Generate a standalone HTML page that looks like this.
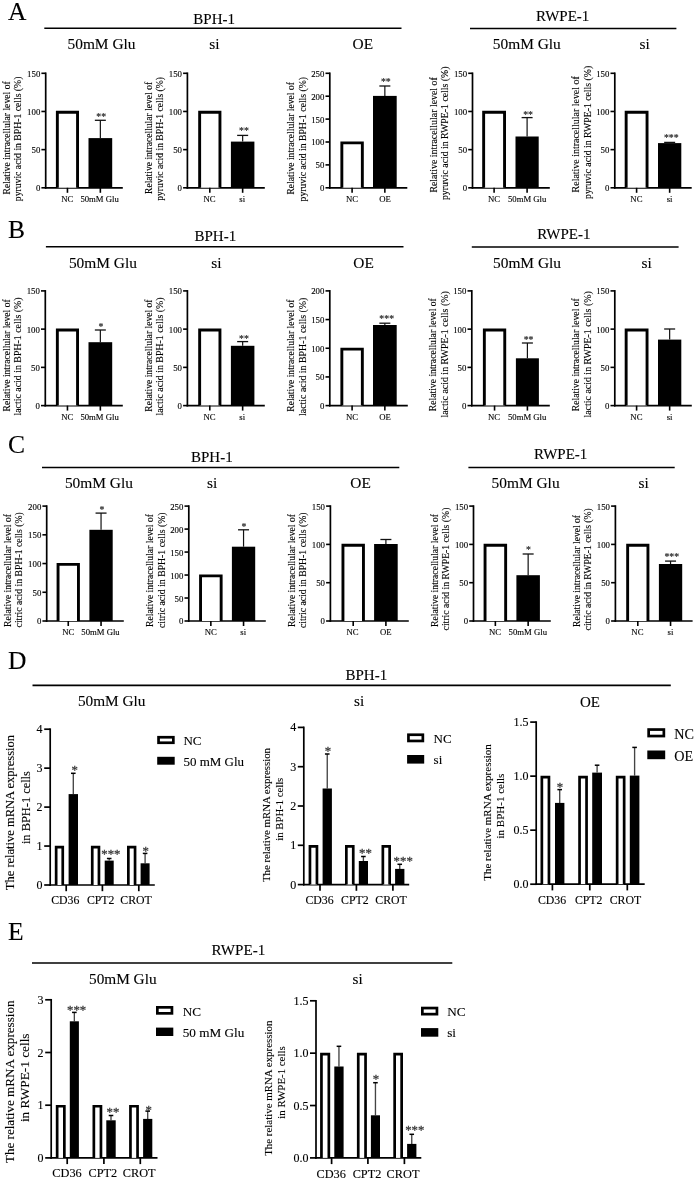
<!DOCTYPE html>
<html><head><meta charset="utf-8"><style>
html,body{margin:0;padding:0;background:#fff;}
svg{display:block;filter:grayscale(1);}
text{font-family:"Liberation Serif", serif;fill:#000;stroke:#000;stroke-width:0.12px;}
</style></head><body>
<svg width="695" height="1180" viewBox="0 0 695 1180">
<rect x="0" y="0" width="695" height="1180" fill="#fff"/>
<text x="8.00" y="19.80" font-size="25.5" text-anchor="start" >A</text>
<line x1="44.30" y1="28.30" x2="401.50" y2="28.30" stroke="#000" stroke-width="1.5"/>
<line x1="470.00" y1="28.60" x2="676.40" y2="28.60" stroke="#000" stroke-width="1.5"/>
<text x="193.30" y="23.60" font-size="15" text-anchor="start" >BPH-1</text>
<text x="536.00" y="20.70" font-size="15" text-anchor="start" >RWPE-1</text>
<text x="67.50" y="49.30" font-size="15.4" text-anchor="start" >50mM Glu</text>
<text x="209.30" y="49.30" font-size="15.4" text-anchor="start" >si</text>
<text x="352.60" y="49.30" font-size="15.4" text-anchor="start" >OE</text>
<text x="492.80" y="49.30" font-size="15.4" text-anchor="start" >50mM Glu</text>
<text x="639.60" y="49.30" font-size="15.4" text-anchor="start" >si</text>
<line x1="45.70" y1="72.45" x2="45.70" y2="188.65" stroke="#000" stroke-width="1.7"/>
<line x1="44.85" y1="187.80" x2="122.80" y2="187.80" stroke="#000" stroke-width="1.7"/>
<line x1="41.40" y1="187.80" x2="45.70" y2="187.80" stroke="#000" stroke-width="1.6"/>
<text x="40.30" y="191.29" font-size="8.8" text-anchor="end" >0</text>
<line x1="41.40" y1="149.63" x2="45.70" y2="149.63" stroke="#000" stroke-width="1.6"/>
<text x="40.30" y="153.13" font-size="8.8" text-anchor="end" >50</text>
<line x1="41.40" y1="111.47" x2="45.70" y2="111.47" stroke="#000" stroke-width="1.6"/>
<text x="40.30" y="114.96" font-size="8.8" text-anchor="end" >100</text>
<line x1="41.40" y1="73.30" x2="45.70" y2="73.30" stroke="#000" stroke-width="1.6"/>
<text x="40.30" y="76.79" font-size="8.8" text-anchor="end" >150</text>
<path d="M57.35 187.80 V112.32 H77.55 V187.80" fill="#fff" stroke="#000" stroke-width="2.9" stroke-linejoin="miter"/>
<line x1="100.35" y1="120.30" x2="100.35" y2="138.10" stroke="#111" stroke-width="1.2"/>
<line x1="94.85" y1="120.30" x2="105.85" y2="120.30" stroke="#111" stroke-width="1.3"/>
<rect x="88.50" y="138.10" width="23.70" height="49.70" fill="#000"/>
<line x1="67.45" y1="187.80" x2="67.45" y2="192.80" stroke="#000" stroke-width="1.6"/>
<line x1="100.35" y1="187.80" x2="100.35" y2="192.80" stroke="#000" stroke-width="1.6"/>
<text x="101.20" y="120.44" font-size="9.8" text-anchor="middle" style="fill:#333;stroke:#333;stroke-width:0.2">**</text>
<text x="67.20" y="202.10" font-size="8.7" text-anchor="middle" >NC</text>
<text x="99.60" y="202.10" font-size="8.7" text-anchor="middle" >50mM Glu</text>
<text transform="translate(10.20,137.90) rotate(-90)" x="0" y="0" font-size="9.7" text-anchor="middle">Relative intracellular level of</text>
<text transform="translate(21.40,138.90) rotate(-90)" x="0" y="0" font-size="9.7" text-anchor="middle">pyruvic acid in BPH-1 cells (%)</text>
<line x1="187.40" y1="72.45" x2="187.40" y2="188.65" stroke="#000" stroke-width="1.7"/>
<line x1="186.55" y1="187.80" x2="264.80" y2="187.80" stroke="#000" stroke-width="1.7"/>
<line x1="183.10" y1="187.80" x2="187.40" y2="187.80" stroke="#000" stroke-width="1.6"/>
<text x="182.00" y="191.29" font-size="8.8" text-anchor="end" >0</text>
<line x1="183.10" y1="149.63" x2="187.40" y2="149.63" stroke="#000" stroke-width="1.6"/>
<text x="182.00" y="153.13" font-size="8.8" text-anchor="end" >50</text>
<line x1="183.10" y1="111.47" x2="187.40" y2="111.47" stroke="#000" stroke-width="1.6"/>
<text x="182.00" y="114.96" font-size="8.8" text-anchor="end" >100</text>
<line x1="183.10" y1="73.30" x2="187.40" y2="73.30" stroke="#000" stroke-width="1.6"/>
<text x="182.00" y="76.79" font-size="8.8" text-anchor="end" >150</text>
<path d="M199.65 187.80 V112.32 H219.95 V187.80" fill="#fff" stroke="#000" stroke-width="2.9" stroke-linejoin="miter"/>
<line x1="242.65" y1="135.40" x2="242.65" y2="141.60" stroke="#111" stroke-width="1.2"/>
<line x1="237.15" y1="135.40" x2="248.15" y2="135.40" stroke="#111" stroke-width="1.3"/>
<rect x="230.90" y="141.60" width="23.50" height="46.20" fill="#000"/>
<line x1="209.80" y1="187.80" x2="209.80" y2="192.80" stroke="#000" stroke-width="1.6"/>
<line x1="242.65" y1="187.80" x2="242.65" y2="192.80" stroke="#000" stroke-width="1.6"/>
<text x="244.00" y="134.34" font-size="9.8" text-anchor="middle" style="fill:#333;stroke:#333;stroke-width:0.2">**</text>
<text x="209.60" y="202.10" font-size="8.7" text-anchor="middle" >NC</text>
<text x="242.20" y="202.10" font-size="8.7" text-anchor="middle" >si</text>
<text transform="translate(151.90,137.90) rotate(-90)" x="0" y="0" font-size="9.6" text-anchor="middle">Relative intracellular level of</text>
<text transform="translate(163.10,138.90) rotate(-90)" x="0" y="0" font-size="9.65" text-anchor="middle">pyruvic acid in BPH-1 cells (%)</text>
<line x1="329.80" y1="72.45" x2="329.80" y2="188.65" stroke="#000" stroke-width="1.7"/>
<line x1="328.95" y1="187.80" x2="407.30" y2="187.80" stroke="#000" stroke-width="1.7"/>
<line x1="325.50" y1="187.80" x2="329.80" y2="187.80" stroke="#000" stroke-width="1.6"/>
<text x="324.40" y="191.29" font-size="8.8" text-anchor="end" >0</text>
<line x1="325.50" y1="164.90" x2="329.80" y2="164.90" stroke="#000" stroke-width="1.6"/>
<text x="324.40" y="168.39" font-size="8.8" text-anchor="end" >50</text>
<line x1="325.50" y1="142.00" x2="329.80" y2="142.00" stroke="#000" stroke-width="1.6"/>
<text x="324.40" y="145.49" font-size="8.8" text-anchor="end" >100</text>
<line x1="325.50" y1="119.10" x2="329.80" y2="119.10" stroke="#000" stroke-width="1.6"/>
<text x="324.40" y="122.59" font-size="8.8" text-anchor="end" >150</text>
<line x1="325.50" y1="96.20" x2="329.80" y2="96.20" stroke="#000" stroke-width="1.6"/>
<text x="324.40" y="99.69" font-size="8.8" text-anchor="end" >200</text>
<line x1="325.50" y1="73.30" x2="329.80" y2="73.30" stroke="#000" stroke-width="1.6"/>
<text x="324.40" y="76.79" font-size="8.8" text-anchor="end" >250</text>
<path d="M341.85 187.80 V142.85 H362.35 V187.80" fill="#fff" stroke="#000" stroke-width="2.9" stroke-linejoin="miter"/>
<line x1="384.85" y1="86.00" x2="384.85" y2="95.90" stroke="#111" stroke-width="1.2"/>
<line x1="379.35" y1="86.00" x2="390.35" y2="86.00" stroke="#111" stroke-width="1.3"/>
<rect x="373.00" y="95.90" width="23.70" height="91.90" fill="#000"/>
<line x1="352.10" y1="187.80" x2="352.10" y2="192.80" stroke="#000" stroke-width="1.6"/>
<line x1="384.85" y1="187.80" x2="384.85" y2="192.80" stroke="#000" stroke-width="1.6"/>
<text x="385.80" y="84.94" font-size="9.8" text-anchor="middle" style="fill:#333;stroke:#333;stroke-width:0.2">**</text>
<text x="352.10" y="202.10" font-size="8.7" text-anchor="middle" >NC</text>
<text x="385.00" y="202.10" font-size="8.7" text-anchor="middle" >OE</text>
<text transform="translate(294.30,138.30) rotate(-90)" x="0" y="0" font-size="9.65" text-anchor="middle">Relative intracellular level of</text>
<text transform="translate(305.50,139.20) rotate(-90)" x="0" y="0" font-size="9.68" text-anchor="middle">pyruvic acid in BPH-1 cells (%)</text>
<line x1="472.50" y1="72.45" x2="472.50" y2="188.65" stroke="#000" stroke-width="1.7"/>
<line x1="471.65" y1="187.80" x2="549.80" y2="187.80" stroke="#000" stroke-width="1.7"/>
<line x1="468.20" y1="187.80" x2="472.50" y2="187.80" stroke="#000" stroke-width="1.6"/>
<text x="467.10" y="191.29" font-size="8.8" text-anchor="end" >0</text>
<line x1="468.20" y1="149.63" x2="472.50" y2="149.63" stroke="#000" stroke-width="1.6"/>
<text x="467.10" y="153.13" font-size="8.8" text-anchor="end" >50</text>
<line x1="468.20" y1="111.47" x2="472.50" y2="111.47" stroke="#000" stroke-width="1.6"/>
<text x="467.10" y="114.96" font-size="8.8" text-anchor="end" >100</text>
<line x1="468.20" y1="73.30" x2="472.50" y2="73.30" stroke="#000" stroke-width="1.6"/>
<text x="467.10" y="76.79" font-size="8.8" text-anchor="end" >150</text>
<path d="M483.65 187.80 V112.32 H504.55 V187.80" fill="#fff" stroke="#000" stroke-width="2.9" stroke-linejoin="miter"/>
<line x1="527.10" y1="117.60" x2="527.10" y2="136.50" stroke="#111" stroke-width="1.2"/>
<line x1="521.60" y1="117.60" x2="532.60" y2="117.60" stroke="#111" stroke-width="1.3"/>
<rect x="515.50" y="136.50" width="23.20" height="51.30" fill="#000"/>
<line x1="494.10" y1="187.80" x2="494.10" y2="192.80" stroke="#000" stroke-width="1.6"/>
<line x1="527.10" y1="187.80" x2="527.10" y2="192.80" stroke="#000" stroke-width="1.6"/>
<text x="528.10" y="117.64" font-size="9.8" text-anchor="middle" style="fill:#333;stroke:#333;stroke-width:0.2">**</text>
<text x="494.10" y="202.10" font-size="8.7" text-anchor="middle" >NC</text>
<text x="527.20" y="202.10" font-size="8.7" text-anchor="middle" >50mM Glu</text>
<text transform="translate(437.00,134.90) rotate(-90)" x="0" y="0" font-size="9.9" text-anchor="middle">Relative intracellular level of</text>
<text transform="translate(448.20,133.30) rotate(-90)" x="0" y="0" font-size="9.8" text-anchor="middle">pyruvic acid in RWPE-1 cells (%)</text>
<line x1="614.80" y1="72.45" x2="614.80" y2="188.65" stroke="#000" stroke-width="1.7"/>
<line x1="613.95" y1="187.80" x2="691.70" y2="187.80" stroke="#000" stroke-width="1.7"/>
<line x1="610.50" y1="187.80" x2="614.80" y2="187.80" stroke="#000" stroke-width="1.6"/>
<text x="609.40" y="191.29" font-size="8.8" text-anchor="end" >0</text>
<line x1="610.50" y1="149.63" x2="614.80" y2="149.63" stroke="#000" stroke-width="1.6"/>
<text x="609.40" y="153.13" font-size="8.8" text-anchor="end" >50</text>
<line x1="610.50" y1="111.47" x2="614.80" y2="111.47" stroke="#000" stroke-width="1.6"/>
<text x="609.40" y="114.96" font-size="8.8" text-anchor="end" >100</text>
<line x1="610.50" y1="73.30" x2="614.80" y2="73.30" stroke="#000" stroke-width="1.6"/>
<text x="609.40" y="76.79" font-size="8.8" text-anchor="end" >150</text>
<path d="M626.15 187.80 V112.32 H647.05 V187.80" fill="#fff" stroke="#000" stroke-width="2.9" stroke-linejoin="miter"/>
<line x1="669.65" y1="142.40" x2="669.65" y2="143.10" stroke="#111" stroke-width="1.2"/>
<line x1="664.15" y1="142.40" x2="675.15" y2="142.40" stroke="#111" stroke-width="1.3"/>
<rect x="658.00" y="143.10" width="23.30" height="44.70" fill="#000"/>
<line x1="636.60" y1="187.80" x2="636.60" y2="192.80" stroke="#000" stroke-width="1.6"/>
<line x1="669.65" y1="187.80" x2="669.65" y2="192.80" stroke="#000" stroke-width="1.6"/>
<text x="671.30" y="141.04" font-size="9.8" text-anchor="middle" style="fill:#333;stroke:#333;stroke-width:0.2">***</text>
<text x="636.40" y="202.10" font-size="8.7" text-anchor="middle" >NC</text>
<text x="669.60" y="202.10" font-size="8.7" text-anchor="middle" >si</text>
<text transform="translate(579.30,134.30) rotate(-90)" x="0" y="0" font-size="9.95" text-anchor="middle">Relative intracellular level of</text>
<text transform="translate(590.50,132.40) rotate(-90)" x="0" y="0" font-size="9.78" text-anchor="middle">pyruvic acid in RWPE-1 cells (%)</text>
<text x="8.00" y="237.90" font-size="25.5" text-anchor="start" >B</text>
<line x1="45.90" y1="246.80" x2="403.50" y2="246.80" stroke="#000" stroke-width="1.5"/>
<line x1="471.80" y1="246.90" x2="678.60" y2="246.90" stroke="#000" stroke-width="1.5"/>
<text x="194.50" y="240.90" font-size="15" text-anchor="start" >BPH-1</text>
<text x="537.20" y="238.70" font-size="15" text-anchor="start" >RWPE-1</text>
<text x="68.90" y="267.70" font-size="15.4" text-anchor="start" >50mM Glu</text>
<text x="211.30" y="267.70" font-size="15.4" text-anchor="start" >si</text>
<text x="353.30" y="267.70" font-size="15.4" text-anchor="start" >OE</text>
<text x="493.00" y="267.70" font-size="15.4" text-anchor="start" >50mM Glu</text>
<text x="641.50" y="267.70" font-size="15.4" text-anchor="start" >si</text>
<line x1="45.30" y1="290.05" x2="45.30" y2="406.45" stroke="#000" stroke-width="1.7"/>
<line x1="44.45" y1="405.60" x2="122.80" y2="405.60" stroke="#000" stroke-width="1.7"/>
<line x1="41.00" y1="405.60" x2="45.30" y2="405.60" stroke="#000" stroke-width="1.6"/>
<text x="39.90" y="409.09" font-size="8.8" text-anchor="end" >0</text>
<line x1="41.00" y1="367.37" x2="45.30" y2="367.37" stroke="#000" stroke-width="1.6"/>
<text x="39.90" y="370.86" font-size="8.8" text-anchor="end" >50</text>
<line x1="41.00" y1="329.13" x2="45.30" y2="329.13" stroke="#000" stroke-width="1.6"/>
<text x="39.90" y="332.63" font-size="8.8" text-anchor="end" >100</text>
<line x1="41.00" y1="290.90" x2="45.30" y2="290.90" stroke="#000" stroke-width="1.6"/>
<text x="39.90" y="294.39" font-size="8.8" text-anchor="end" >150</text>
<path d="M57.35 405.60 V329.98 H77.55 V405.60" fill="#fff" stroke="#000" stroke-width="2.9" stroke-linejoin="miter"/>
<line x1="100.35" y1="330.00" x2="100.35" y2="342.20" stroke="#111" stroke-width="1.2"/>
<line x1="94.85" y1="330.00" x2="105.85" y2="330.00" stroke="#111" stroke-width="1.3"/>
<rect x="88.50" y="342.20" width="23.70" height="63.40" fill="#000"/>
<line x1="67.45" y1="405.60" x2="67.45" y2="410.60" stroke="#000" stroke-width="1.6"/>
<line x1="100.35" y1="405.60" x2="100.35" y2="410.60" stroke="#000" stroke-width="1.6"/>
<text x="101.00" y="329.54" font-size="9.8" text-anchor="middle" style="fill:#333;stroke:#333;stroke-width:0.2">*</text>
<text x="67.20" y="419.90" font-size="8.7" text-anchor="middle" >NC</text>
<text x="99.60" y="419.90" font-size="8.7" text-anchor="middle" >50mM Glu</text>
<text transform="translate(9.80,355.40) rotate(-90)" x="0" y="0" font-size="9.6" text-anchor="middle">Relative intracellular level of</text>
<text transform="translate(21.00,356.50) rotate(-90)" x="0" y="0" font-size="9.87" text-anchor="middle">lactic acid in BPH-1 cells (%)</text>
<line x1="187.40" y1="290.05" x2="187.40" y2="406.45" stroke="#000" stroke-width="1.7"/>
<line x1="186.55" y1="405.60" x2="264.80" y2="405.60" stroke="#000" stroke-width="1.7"/>
<line x1="183.10" y1="405.60" x2="187.40" y2="405.60" stroke="#000" stroke-width="1.6"/>
<text x="182.00" y="409.09" font-size="8.8" text-anchor="end" >0</text>
<line x1="183.10" y1="367.37" x2="187.40" y2="367.37" stroke="#000" stroke-width="1.6"/>
<text x="182.00" y="370.86" font-size="8.8" text-anchor="end" >50</text>
<line x1="183.10" y1="329.13" x2="187.40" y2="329.13" stroke="#000" stroke-width="1.6"/>
<text x="182.00" y="332.63" font-size="8.8" text-anchor="end" >100</text>
<line x1="183.10" y1="290.90" x2="187.40" y2="290.90" stroke="#000" stroke-width="1.6"/>
<text x="182.00" y="294.39" font-size="8.8" text-anchor="end" >150</text>
<path d="M199.65 405.60 V329.98 H219.95 V405.60" fill="#fff" stroke="#000" stroke-width="2.9" stroke-linejoin="miter"/>
<line x1="242.65" y1="341.60" x2="242.65" y2="345.80" stroke="#111" stroke-width="1.2"/>
<line x1="237.15" y1="341.60" x2="248.15" y2="341.60" stroke="#111" stroke-width="1.3"/>
<rect x="230.90" y="345.80" width="23.50" height="59.80" fill="#000"/>
<line x1="209.80" y1="405.60" x2="209.80" y2="410.60" stroke="#000" stroke-width="1.6"/>
<line x1="242.65" y1="405.60" x2="242.65" y2="410.60" stroke="#000" stroke-width="1.6"/>
<text x="244.00" y="341.94" font-size="9.8" text-anchor="middle" style="fill:#333;stroke:#333;stroke-width:0.2">**</text>
<text x="209.60" y="419.90" font-size="8.7" text-anchor="middle" >NC</text>
<text x="242.20" y="419.90" font-size="8.7" text-anchor="middle" >si</text>
<text transform="translate(151.90,355.60) rotate(-90)" x="0" y="0" font-size="9.62" text-anchor="middle">Relative intracellular level of</text>
<text transform="translate(163.10,356.50) rotate(-90)" x="0" y="0" font-size="9.89" text-anchor="middle">lactic acid in BPH-1 cells (%)</text>
<line x1="329.80" y1="290.05" x2="329.80" y2="406.45" stroke="#000" stroke-width="1.7"/>
<line x1="328.95" y1="405.60" x2="407.80" y2="405.60" stroke="#000" stroke-width="1.7"/>
<line x1="325.50" y1="405.60" x2="329.80" y2="405.60" stroke="#000" stroke-width="1.6"/>
<text x="324.40" y="409.09" font-size="8.8" text-anchor="end" >0</text>
<line x1="325.50" y1="376.93" x2="329.80" y2="376.93" stroke="#000" stroke-width="1.6"/>
<text x="324.40" y="380.42" font-size="8.8" text-anchor="end" >50</text>
<line x1="325.50" y1="348.25" x2="329.80" y2="348.25" stroke="#000" stroke-width="1.6"/>
<text x="324.40" y="351.74" font-size="8.8" text-anchor="end" >100</text>
<line x1="325.50" y1="319.57" x2="329.80" y2="319.57" stroke="#000" stroke-width="1.6"/>
<text x="324.40" y="323.07" font-size="8.8" text-anchor="end" >150</text>
<line x1="325.50" y1="290.90" x2="329.80" y2="290.90" stroke="#000" stroke-width="1.6"/>
<text x="324.40" y="294.39" font-size="8.8" text-anchor="end" >200</text>
<path d="M341.85 405.60 V349.10 H362.35 V405.60" fill="#fff" stroke="#000" stroke-width="2.9" stroke-linejoin="miter"/>
<line x1="384.85" y1="323.20" x2="384.85" y2="325.00" stroke="#111" stroke-width="1.2"/>
<line x1="379.35" y1="323.20" x2="390.35" y2="323.20" stroke="#111" stroke-width="1.3"/>
<rect x="373.00" y="325.00" width="23.70" height="80.60" fill="#000"/>
<line x1="352.10" y1="405.60" x2="352.10" y2="410.60" stroke="#000" stroke-width="1.6"/>
<line x1="384.85" y1="405.60" x2="384.85" y2="410.60" stroke="#000" stroke-width="1.6"/>
<text x="386.70" y="321.64" font-size="9.8" text-anchor="middle" style="fill:#333;stroke:#333;stroke-width:0.2">***</text>
<text x="352.10" y="419.90" font-size="8.7" text-anchor="middle" >NC</text>
<text x="385.00" y="419.90" font-size="8.7" text-anchor="middle" >OE</text>
<text transform="translate(294.30,355.60) rotate(-90)" x="0" y="0" font-size="9.62" text-anchor="middle">Relative intracellular level of</text>
<text transform="translate(305.50,356.80) rotate(-90)" x="0" y="0" font-size="9.9" text-anchor="middle">lactic acid in BPH-1 cells (%)</text>
<line x1="471.80" y1="290.05" x2="471.80" y2="406.45" stroke="#000" stroke-width="1.7"/>
<line x1="470.95" y1="405.60" x2="549.80" y2="405.60" stroke="#000" stroke-width="1.7"/>
<line x1="467.50" y1="405.60" x2="471.80" y2="405.60" stroke="#000" stroke-width="1.6"/>
<text x="466.40" y="409.09" font-size="8.8" text-anchor="end" >0</text>
<line x1="467.50" y1="367.37" x2="471.80" y2="367.37" stroke="#000" stroke-width="1.6"/>
<text x="466.40" y="370.86" font-size="8.8" text-anchor="end" >50</text>
<line x1="467.50" y1="329.13" x2="471.80" y2="329.13" stroke="#000" stroke-width="1.6"/>
<text x="466.40" y="332.63" font-size="8.8" text-anchor="end" >100</text>
<line x1="467.50" y1="290.90" x2="471.80" y2="290.90" stroke="#000" stroke-width="1.6"/>
<text x="466.40" y="294.39" font-size="8.8" text-anchor="end" >150</text>
<path d="M484.35 405.60 V329.98 H504.75 V405.60" fill="#fff" stroke="#000" stroke-width="2.9" stroke-linejoin="miter"/>
<line x1="527.40" y1="343.00" x2="527.40" y2="358.30" stroke="#111" stroke-width="1.2"/>
<line x1="521.90" y1="343.00" x2="532.90" y2="343.00" stroke="#111" stroke-width="1.3"/>
<rect x="515.90" y="358.30" width="23.00" height="47.30" fill="#000"/>
<line x1="494.55" y1="405.60" x2="494.55" y2="410.60" stroke="#000" stroke-width="1.6"/>
<line x1="527.40" y1="405.60" x2="527.40" y2="410.60" stroke="#000" stroke-width="1.6"/>
<text x="528.60" y="343.04" font-size="9.8" text-anchor="middle" style="fill:#333;stroke:#333;stroke-width:0.2">**</text>
<text x="494.10" y="419.90" font-size="8.7" text-anchor="middle" >NC</text>
<text x="527.20" y="419.90" font-size="8.7" text-anchor="middle" >50mM Glu</text>
<text transform="translate(436.30,354.70) rotate(-90)" x="0" y="0" font-size="9.68" text-anchor="middle">Relative intracellular level of</text>
<text transform="translate(447.50,354.40) rotate(-90)" x="0" y="0" font-size="9.92" text-anchor="middle">lactic acid in RWPE-1 cells (%)</text>
<line x1="614.80" y1="290.05" x2="614.80" y2="406.45" stroke="#000" stroke-width="1.7"/>
<line x1="613.95" y1="405.60" x2="691.80" y2="405.60" stroke="#000" stroke-width="1.7"/>
<line x1="610.50" y1="405.60" x2="614.80" y2="405.60" stroke="#000" stroke-width="1.6"/>
<text x="609.40" y="409.09" font-size="8.8" text-anchor="end" >0</text>
<line x1="610.50" y1="367.37" x2="614.80" y2="367.37" stroke="#000" stroke-width="1.6"/>
<text x="609.40" y="370.86" font-size="8.8" text-anchor="end" >50</text>
<line x1="610.50" y1="329.13" x2="614.80" y2="329.13" stroke="#000" stroke-width="1.6"/>
<text x="609.40" y="332.63" font-size="8.8" text-anchor="end" >100</text>
<line x1="610.50" y1="290.90" x2="614.80" y2="290.90" stroke="#000" stroke-width="1.6"/>
<text x="609.40" y="294.39" font-size="8.8" text-anchor="end" >150</text>
<path d="M626.15 405.60 V329.98 H647.05 V405.60" fill="#fff" stroke="#000" stroke-width="2.9" stroke-linejoin="miter"/>
<line x1="669.65" y1="329.00" x2="669.65" y2="339.60" stroke="#111" stroke-width="1.2"/>
<line x1="664.15" y1="329.00" x2="675.15" y2="329.00" stroke="#111" stroke-width="1.3"/>
<rect x="658.00" y="339.60" width="23.30" height="66.00" fill="#000"/>
<line x1="636.60" y1="405.60" x2="636.60" y2="410.60" stroke="#000" stroke-width="1.6"/>
<line x1="669.65" y1="405.60" x2="669.65" y2="410.60" stroke="#000" stroke-width="1.6"/>
<text x="636.40" y="419.90" font-size="8.7" text-anchor="middle" >NC</text>
<text x="669.60" y="419.90" font-size="8.7" text-anchor="middle" >si</text>
<text transform="translate(579.30,354.70) rotate(-90)" x="0" y="0" font-size="9.68" text-anchor="middle">Relative intracellular level of</text>
<text transform="translate(590.50,354.40) rotate(-90)" x="0" y="0" font-size="9.92" text-anchor="middle">lactic acid in RWPE-1 cells (%)</text>
<text x="8.00" y="453.00" font-size="25.5" text-anchor="start" >C</text>
<line x1="42.00" y1="467.40" x2="399.30" y2="467.40" stroke="#000" stroke-width="1.5"/>
<line x1="468.40" y1="467.50" x2="674.70" y2="467.50" stroke="#000" stroke-width="1.5"/>
<text x="191.00" y="462.40" font-size="15" text-anchor="start" >BPH-1</text>
<text x="534.00" y="458.90" font-size="15" text-anchor="start" >RWPE-1</text>
<text x="64.90" y="487.90" font-size="15.4" text-anchor="start" >50mM Glu</text>
<text x="207.00" y="487.90" font-size="15.4" text-anchor="start" >si</text>
<text x="350.30" y="487.90" font-size="15.4" text-anchor="start" >OE</text>
<text x="491.60" y="487.90" font-size="15.4" text-anchor="start" >50mM Glu</text>
<text x="638.40" y="487.90" font-size="15.4" text-anchor="start" >si</text>
<line x1="46.70" y1="505.25" x2="46.70" y2="621.85" stroke="#000" stroke-width="1.7"/>
<line x1="45.85" y1="621.00" x2="123.80" y2="621.00" stroke="#000" stroke-width="1.7"/>
<line x1="42.40" y1="621.00" x2="46.70" y2="621.00" stroke="#000" stroke-width="1.6"/>
<text x="41.30" y="624.49" font-size="8.8" text-anchor="end" >0</text>
<line x1="42.40" y1="592.27" x2="46.70" y2="592.27" stroke="#000" stroke-width="1.6"/>
<text x="41.30" y="595.77" font-size="8.8" text-anchor="end" >50</text>
<line x1="42.40" y1="563.55" x2="46.70" y2="563.55" stroke="#000" stroke-width="1.6"/>
<text x="41.30" y="567.04" font-size="8.8" text-anchor="end" >100</text>
<line x1="42.40" y1="534.83" x2="46.70" y2="534.83" stroke="#000" stroke-width="1.6"/>
<text x="41.30" y="538.32" font-size="8.8" text-anchor="end" >150</text>
<line x1="42.40" y1="506.10" x2="46.70" y2="506.10" stroke="#000" stroke-width="1.6"/>
<text x="41.30" y="509.59" font-size="8.8" text-anchor="end" >200</text>
<path d="M58.05 621.00 V564.40 H78.45 V621.00" fill="#fff" stroke="#000" stroke-width="2.9" stroke-linejoin="miter"/>
<line x1="101.05" y1="513.10" x2="101.05" y2="529.80" stroke="#111" stroke-width="1.2"/>
<line x1="95.55" y1="513.10" x2="106.55" y2="513.10" stroke="#111" stroke-width="1.3"/>
<rect x="89.40" y="529.80" width="23.30" height="91.20" fill="#000"/>
<line x1="68.25" y1="621.00" x2="68.25" y2="626.00" stroke="#000" stroke-width="1.6"/>
<line x1="101.05" y1="621.00" x2="101.05" y2="626.00" stroke="#000" stroke-width="1.6"/>
<text x="102.00" y="512.84" font-size="9.8" text-anchor="middle" style="fill:#333;stroke:#333;stroke-width:0.2">*</text>
<text x="68.20" y="635.30" font-size="8.7" text-anchor="middle" >NC</text>
<text x="100.50" y="635.30" font-size="8.7" text-anchor="middle" >50mM Glu</text>
<text transform="translate(11.20,570.50) rotate(-90)" x="0" y="0" font-size="9.68" text-anchor="middle">Relative intracellular level of</text>
<text transform="translate(22.40,569.80) rotate(-90)" x="0" y="0" font-size="9.72" text-anchor="middle">citric acid in BPH-1 cells (%)</text>
<line x1="188.80" y1="505.25" x2="188.80" y2="621.85" stroke="#000" stroke-width="1.7"/>
<line x1="187.95" y1="621.00" x2="265.80" y2="621.00" stroke="#000" stroke-width="1.7"/>
<line x1="184.50" y1="621.00" x2="188.80" y2="621.00" stroke="#000" stroke-width="1.6"/>
<text x="183.40" y="624.49" font-size="8.8" text-anchor="end" >0</text>
<line x1="184.50" y1="598.02" x2="188.80" y2="598.02" stroke="#000" stroke-width="1.6"/>
<text x="183.40" y="601.51" font-size="8.8" text-anchor="end" >50</text>
<line x1="184.50" y1="575.04" x2="188.80" y2="575.04" stroke="#000" stroke-width="1.6"/>
<text x="183.40" y="578.53" font-size="8.8" text-anchor="end" >100</text>
<line x1="184.50" y1="552.06" x2="188.80" y2="552.06" stroke="#000" stroke-width="1.6"/>
<text x="183.40" y="555.55" font-size="8.8" text-anchor="end" >150</text>
<line x1="184.50" y1="529.08" x2="188.80" y2="529.08" stroke="#000" stroke-width="1.6"/>
<text x="183.40" y="532.57" font-size="8.8" text-anchor="end" >200</text>
<line x1="184.50" y1="506.10" x2="188.80" y2="506.10" stroke="#000" stroke-width="1.6"/>
<text x="183.40" y="509.59" font-size="8.8" text-anchor="end" >250</text>
<path d="M200.55 621.00 V575.89 H221.15 V621.00" fill="#fff" stroke="#000" stroke-width="2.9" stroke-linejoin="miter"/>
<line x1="243.55" y1="529.80" x2="243.55" y2="546.70" stroke="#111" stroke-width="1.2"/>
<line x1="238.05" y1="529.80" x2="249.05" y2="529.80" stroke="#111" stroke-width="1.3"/>
<rect x="231.90" y="546.70" width="23.30" height="74.30" fill="#000"/>
<line x1="210.85" y1="621.00" x2="210.85" y2="626.00" stroke="#000" stroke-width="1.6"/>
<line x1="243.55" y1="621.00" x2="243.55" y2="626.00" stroke="#000" stroke-width="1.6"/>
<text x="243.90" y="529.54" font-size="9.8" text-anchor="middle" style="fill:#333;stroke:#333;stroke-width:0.2">*</text>
<text x="210.80" y="635.30" font-size="8.7" text-anchor="middle" >NC</text>
<text x="243.20" y="635.30" font-size="8.7" text-anchor="middle" >si</text>
<text transform="translate(153.30,570.50) rotate(-90)" x="0" y="0" font-size="9.68" text-anchor="middle">Relative intracellular level of</text>
<text transform="translate(164.50,570.20) rotate(-90)" x="0" y="0" font-size="9.75" text-anchor="middle">citric acid in BPH-1 cells (%)</text>
<line x1="330.40" y1="505.25" x2="330.40" y2="621.85" stroke="#000" stroke-width="1.7"/>
<line x1="329.55" y1="621.00" x2="408.80" y2="621.00" stroke="#000" stroke-width="1.7"/>
<line x1="326.10" y1="621.00" x2="330.40" y2="621.00" stroke="#000" stroke-width="1.6"/>
<text x="325.00" y="624.49" font-size="8.8" text-anchor="end" >0</text>
<line x1="326.10" y1="582.70" x2="330.40" y2="582.70" stroke="#000" stroke-width="1.6"/>
<text x="325.00" y="586.19" font-size="8.8" text-anchor="end" >50</text>
<line x1="326.10" y1="544.40" x2="330.40" y2="544.40" stroke="#000" stroke-width="1.6"/>
<text x="325.00" y="547.89" font-size="8.8" text-anchor="end" >100</text>
<line x1="326.10" y1="506.10" x2="330.40" y2="506.10" stroke="#000" stroke-width="1.6"/>
<text x="325.00" y="509.59" font-size="8.8" text-anchor="end" >150</text>
<path d="M342.95 621.00 V545.25 H363.45 V621.00" fill="#fff" stroke="#000" stroke-width="2.9" stroke-linejoin="miter"/>
<line x1="385.90" y1="539.50" x2="385.90" y2="544.00" stroke="#111" stroke-width="1.2"/>
<line x1="380.40" y1="539.50" x2="391.40" y2="539.50" stroke="#111" stroke-width="1.3"/>
<rect x="374.10" y="544.00" width="23.60" height="77.00" fill="#000"/>
<line x1="353.20" y1="621.00" x2="353.20" y2="626.00" stroke="#000" stroke-width="1.6"/>
<line x1="385.90" y1="621.00" x2="385.90" y2="626.00" stroke="#000" stroke-width="1.6"/>
<text x="352.60" y="635.30" font-size="8.7" text-anchor="middle" >NC</text>
<text x="385.80" y="635.30" font-size="8.7" text-anchor="middle" >OE</text>
<text transform="translate(294.90,570.50) rotate(-90)" x="0" y="0" font-size="9.68" text-anchor="middle">Relative intracellular level of</text>
<text transform="translate(306.10,570.20) rotate(-90)" x="0" y="0" font-size="9.75" text-anchor="middle">citric acid in BPH-1 cells (%)</text>
<line x1="473.50" y1="505.25" x2="473.50" y2="621.85" stroke="#000" stroke-width="1.7"/>
<line x1="472.65" y1="621.00" x2="550.80" y2="621.00" stroke="#000" stroke-width="1.7"/>
<line x1="469.20" y1="621.00" x2="473.50" y2="621.00" stroke="#000" stroke-width="1.6"/>
<text x="468.10" y="624.49" font-size="8.8" text-anchor="end" >0</text>
<line x1="469.20" y1="582.70" x2="473.50" y2="582.70" stroke="#000" stroke-width="1.6"/>
<text x="468.10" y="586.19" font-size="8.8" text-anchor="end" >50</text>
<line x1="469.20" y1="544.40" x2="473.50" y2="544.40" stroke="#000" stroke-width="1.6"/>
<text x="468.10" y="547.89" font-size="8.8" text-anchor="end" >100</text>
<line x1="469.20" y1="506.10" x2="473.50" y2="506.10" stroke="#000" stroke-width="1.6"/>
<text x="468.10" y="509.59" font-size="8.8" text-anchor="end" >150</text>
<path d="M485.05 621.00 V545.25 H505.65 V621.00" fill="#fff" stroke="#000" stroke-width="2.9" stroke-linejoin="miter"/>
<line x1="528.15" y1="554.00" x2="528.15" y2="575.20" stroke="#111" stroke-width="1.2"/>
<line x1="522.65" y1="554.00" x2="533.65" y2="554.00" stroke="#111" stroke-width="1.3"/>
<rect x="516.40" y="575.20" width="23.50" height="45.80" fill="#000"/>
<line x1="495.35" y1="621.00" x2="495.35" y2="626.00" stroke="#000" stroke-width="1.6"/>
<line x1="528.15" y1="621.00" x2="528.15" y2="626.00" stroke="#000" stroke-width="1.6"/>
<text x="528.40" y="552.84" font-size="9.8" text-anchor="middle" style="fill:#333;stroke:#333;stroke-width:0.2">*</text>
<text x="495.00" y="635.30" font-size="8.7" text-anchor="middle" >NC</text>
<text x="527.80" y="635.30" font-size="8.7" text-anchor="middle" >50mM Glu</text>
<text transform="translate(438.00,570.50) rotate(-90)" x="0" y="0" font-size="9.68" text-anchor="middle">Relative intracellular level of</text>
<text transform="translate(449.20,569.00) rotate(-90)" x="0" y="0" font-size="9.73" text-anchor="middle">citric acid in RWPE-1 cells (%)</text>
<line x1="615.40" y1="505.25" x2="615.40" y2="621.85" stroke="#000" stroke-width="1.7"/>
<line x1="614.55" y1="621.00" x2="692.60" y2="621.00" stroke="#000" stroke-width="1.7"/>
<line x1="611.10" y1="621.00" x2="615.40" y2="621.00" stroke="#000" stroke-width="1.6"/>
<text x="610.00" y="624.49" font-size="8.8" text-anchor="end" >0</text>
<line x1="611.10" y1="582.70" x2="615.40" y2="582.70" stroke="#000" stroke-width="1.6"/>
<text x="610.00" y="586.19" font-size="8.8" text-anchor="end" >50</text>
<line x1="611.10" y1="544.40" x2="615.40" y2="544.40" stroke="#000" stroke-width="1.6"/>
<text x="610.00" y="547.89" font-size="8.8" text-anchor="end" >100</text>
<line x1="611.10" y1="506.10" x2="615.40" y2="506.10" stroke="#000" stroke-width="1.6"/>
<text x="610.00" y="509.59" font-size="8.8" text-anchor="end" >150</text>
<path d="M627.65 621.00 V545.25 H647.95 V621.00" fill="#fff" stroke="#000" stroke-width="2.9" stroke-linejoin="miter"/>
<line x1="670.55" y1="561.10" x2="670.55" y2="564.00" stroke="#111" stroke-width="1.2"/>
<line x1="665.05" y1="561.10" x2="676.05" y2="561.10" stroke="#111" stroke-width="1.3"/>
<rect x="658.90" y="564.00" width="23.30" height="57.00" fill="#000"/>
<line x1="637.80" y1="621.00" x2="637.80" y2="626.00" stroke="#000" stroke-width="1.6"/>
<line x1="670.55" y1="621.00" x2="670.55" y2="626.00" stroke="#000" stroke-width="1.6"/>
<text x="671.80" y="559.94" font-size="9.8" text-anchor="middle" style="fill:#333;stroke:#333;stroke-width:0.2">***</text>
<text x="637.40" y="635.30" font-size="8.7" text-anchor="middle" >NC</text>
<text x="670.40" y="635.30" font-size="8.7" text-anchor="middle" >si</text>
<text transform="translate(579.90,571.00) rotate(-90)" x="0" y="0" font-size="9.58" text-anchor="middle">Relative intracellular level of</text>
<text transform="translate(591.10,569.30) rotate(-90)" x="0" y="0" font-size="9.68" text-anchor="middle">citric acid in RWPE-1 cells (%)</text>
<text x="8.00" y="668.50" font-size="25.5" text-anchor="start" >D</text>
<line x1="32.50" y1="685.40" x2="670.80" y2="685.40" stroke="#000" stroke-width="1.6"/>
<text x="345.50" y="679.70" font-size="15" text-anchor="start" >BPH-1</text>
<text x="77.90" y="706.10" font-size="15.3" text-anchor="start" >50mM Glu</text>
<text x="354.00" y="706.10" font-size="15.2" text-anchor="start" >si</text>
<text x="580.00" y="706.90" font-size="15" text-anchor="start" >OE</text>
<line x1="50.20" y1="728.35" x2="50.20" y2="885.85" stroke="#000" stroke-width="1.7"/>
<line x1="49.35" y1="885.00" x2="154.80" y2="885.00" stroke="#000" stroke-width="1.7"/>
<line x1="44.20" y1="885.00" x2="50.20" y2="885.00" stroke="#000" stroke-width="1.7"/>
<text x="42.60" y="889.02" font-size="12" text-anchor="end" >0</text>
<line x1="44.20" y1="846.05" x2="50.20" y2="846.05" stroke="#000" stroke-width="1.7"/>
<text x="42.60" y="850.07" font-size="12" text-anchor="end" >1</text>
<line x1="44.20" y1="807.10" x2="50.20" y2="807.10" stroke="#000" stroke-width="1.7"/>
<text x="42.60" y="811.12" font-size="12" text-anchor="end" >2</text>
<line x1="44.20" y1="768.15" x2="50.20" y2="768.15" stroke="#000" stroke-width="1.7"/>
<text x="42.60" y="772.17" font-size="12" text-anchor="end" >3</text>
<line x1="44.20" y1="729.20" x2="50.20" y2="729.20" stroke="#000" stroke-width="1.7"/>
<text x="42.60" y="733.22" font-size="12" text-anchor="end" >4</text>
<path d="M56.15 885.00 V847.10 H62.75 V885.00" fill="#fff" stroke="#000" stroke-width="2.7" stroke-linejoin="miter"/>
<line x1="73.30" y1="773.30" x2="73.30" y2="794.10" stroke="#444" stroke-width="1.35"/>
<line x1="71.00" y1="773.30" x2="75.60" y2="773.30" stroke="#000" stroke-width="1.5"/>
<rect x="68.60" y="794.10" width="9.40" height="90.90" fill="#000"/>
<path d="M92.25 885.00 V847.10 H98.95 V885.00" fill="#fff" stroke="#000" stroke-width="2.7" stroke-linejoin="miter"/>
<line x1="109.20" y1="858.50" x2="109.20" y2="860.60" stroke="#444" stroke-width="1.35"/>
<line x1="106.90" y1="858.50" x2="111.50" y2="858.50" stroke="#000" stroke-width="1.5"/>
<rect x="104.70" y="860.60" width="9.00" height="24.40" fill="#000"/>
<path d="M128.35 885.00 V847.10 H135.05 V885.00" fill="#fff" stroke="#000" stroke-width="2.7" stroke-linejoin="miter"/>
<line x1="145.10" y1="853.40" x2="145.10" y2="863.30" stroke="#444" stroke-width="1.35"/>
<line x1="142.80" y1="853.40" x2="147.40" y2="853.40" stroke="#000" stroke-width="1.5"/>
<rect x="140.60" y="863.30" width="9.00" height="21.70" fill="#000"/>
<line x1="66.20" y1="885.00" x2="66.20" y2="891.20" stroke="#000" stroke-width="1.7"/>
<line x1="102.40" y1="885.00" x2="102.40" y2="891.20" stroke="#000" stroke-width="1.7"/>
<line x1="138.80" y1="885.00" x2="138.80" y2="891.20" stroke="#000" stroke-width="1.7"/>
<text x="65.30" y="904.00" font-size="11.8" text-anchor="middle" >CD36</text>
<text x="100.70" y="904.00" font-size="11.8" text-anchor="middle" >CPT2</text>
<text x="136.10" y="904.00" font-size="11.8" text-anchor="middle" >CROT</text>
<text x="74.60" y="773.98" font-size="12.8" text-anchor="middle" style="fill:#3a3a3a;stroke:#3a3a3a;stroke-width:0.3">*</text>
<text x="110.90" y="857.98" font-size="12.8" text-anchor="middle" style="fill:#3a3a3a;stroke:#3a3a3a;stroke-width:0.3">***</text>
<text x="145.80" y="855.38" font-size="12.8" text-anchor="middle" style="fill:#3a3a3a;stroke:#3a3a3a;stroke-width:0.3">*</text>
<text transform="translate(14.00,812.60) rotate(-90)" x="0" y="0" font-size="12.5" text-anchor="middle">The relative mRNA expression</text>
<text transform="translate(30.30,807.60) rotate(-90)" x="0" y="0" font-size="12.4" text-anchor="middle">in BPH-1 cells</text>
<rect x="158.55" y="737.25" width="14.80" height="5.50" fill="#fff" stroke="#000" stroke-width="2.7"/>
<rect x="157.20" y="756.80" width="17.50" height="7.90" fill="#000"/>
<text x="183.40" y="745.00" font-size="13" text-anchor="start" >NC</text>
<text x="183.40" y="766.00" font-size="13" text-anchor="start" >50 mM Glu</text>
<line x1="303.80" y1="726.55" x2="303.80" y2="885.45" stroke="#000" stroke-width="1.7"/>
<line x1="302.95" y1="884.60" x2="409.20" y2="884.60" stroke="#000" stroke-width="1.7"/>
<line x1="297.80" y1="884.60" x2="303.80" y2="884.60" stroke="#000" stroke-width="1.7"/>
<text x="296.20" y="888.62" font-size="12" text-anchor="end" >0</text>
<line x1="297.80" y1="845.30" x2="303.80" y2="845.30" stroke="#000" stroke-width="1.7"/>
<text x="296.20" y="849.32" font-size="12" text-anchor="end" >1</text>
<line x1="297.80" y1="806.00" x2="303.80" y2="806.00" stroke="#000" stroke-width="1.7"/>
<text x="296.20" y="810.02" font-size="12" text-anchor="end" >2</text>
<line x1="297.80" y1="766.70" x2="303.80" y2="766.70" stroke="#000" stroke-width="1.7"/>
<text x="296.20" y="770.72" font-size="12" text-anchor="end" >3</text>
<line x1="297.80" y1="727.40" x2="303.80" y2="727.40" stroke="#000" stroke-width="1.7"/>
<text x="296.20" y="731.42" font-size="12" text-anchor="end" >4</text>
<path d="M309.95 884.60 V846.35 H316.95 V884.60" fill="#fff" stroke="#000" stroke-width="2.7" stroke-linejoin="miter"/>
<line x1="327.25" y1="754.00" x2="327.25" y2="788.50" stroke="#444" stroke-width="1.35"/>
<line x1="324.95" y1="754.00" x2="329.55" y2="754.00" stroke="#000" stroke-width="1.5"/>
<rect x="322.60" y="788.50" width="9.30" height="96.10" fill="#000"/>
<path d="M346.35 884.60 V846.35 H353.25 V884.60" fill="#fff" stroke="#000" stroke-width="2.7" stroke-linejoin="miter"/>
<line x1="363.40" y1="856.50" x2="363.40" y2="861.00" stroke="#444" stroke-width="1.35"/>
<line x1="361.10" y1="856.50" x2="365.70" y2="856.50" stroke="#000" stroke-width="1.5"/>
<rect x="358.80" y="861.00" width="9.20" height="23.60" fill="#000"/>
<path d="M382.85 884.60 V846.35 H389.65 V884.60" fill="#fff" stroke="#000" stroke-width="2.7" stroke-linejoin="miter"/>
<line x1="399.75" y1="864.30" x2="399.75" y2="868.90" stroke="#444" stroke-width="1.35"/>
<line x1="397.45" y1="864.30" x2="402.05" y2="864.30" stroke="#000" stroke-width="1.5"/>
<rect x="395.10" y="868.90" width="9.30" height="15.70" fill="#000"/>
<line x1="320.00" y1="884.60" x2="320.00" y2="890.80" stroke="#000" stroke-width="1.7"/>
<line x1="356.40" y1="884.60" x2="356.40" y2="890.80" stroke="#000" stroke-width="1.7"/>
<line x1="392.90" y1="884.60" x2="392.90" y2="890.80" stroke="#000" stroke-width="1.7"/>
<text x="319.50" y="904.00" font-size="11.8" text-anchor="middle" >CD36</text>
<text x="354.80" y="904.00" font-size="11.8" text-anchor="middle" >CPT2</text>
<text x="391.00" y="904.00" font-size="11.8" text-anchor="middle" >CROT</text>
<text x="327.90" y="754.78" font-size="12.8" text-anchor="middle" style="fill:#3a3a3a;stroke:#3a3a3a;stroke-width:0.3">*</text>
<text x="365.40" y="856.98" font-size="12.8" text-anchor="middle" style="fill:#3a3a3a;stroke:#3a3a3a;stroke-width:0.3">**</text>
<text x="403.20" y="864.98" font-size="12.8" text-anchor="middle" style="fill:#3a3a3a;stroke:#3a3a3a;stroke-width:0.3">***</text>
<text transform="translate(269.70,815.00) rotate(-90)" x="0" y="0" font-size="10.8" text-anchor="middle">The relative mRNA expression</text>
<text transform="translate(282.60,809.20) rotate(-90)" x="0" y="0" font-size="10.7" text-anchor="middle">in BPH-1 cells</text>
<rect x="408.45" y="734.75" width="14.40" height="6.20" fill="#fff" stroke="#000" stroke-width="2.7"/>
<rect x="407.10" y="755.00" width="17.10" height="8.60" fill="#000"/>
<text x="433.60" y="743.10" font-size="13" text-anchor="start" >NC</text>
<text x="433.60" y="764.00" font-size="13" text-anchor="start" >si</text>
<line x1="536.20" y1="721.25" x2="536.20" y2="885.05" stroke="#000" stroke-width="1.7"/>
<line x1="535.35" y1="884.20" x2="644.70" y2="884.20" stroke="#000" stroke-width="1.7"/>
<line x1="530.20" y1="884.20" x2="536.20" y2="884.20" stroke="#000" stroke-width="1.7"/>
<text x="528.60" y="888.22" font-size="12" text-anchor="end" >0.0</text>
<line x1="530.20" y1="830.17" x2="536.20" y2="830.17" stroke="#000" stroke-width="1.7"/>
<text x="528.60" y="834.19" font-size="12" text-anchor="end" >0.5</text>
<line x1="530.20" y1="776.13" x2="536.20" y2="776.13" stroke="#000" stroke-width="1.7"/>
<text x="528.60" y="780.15" font-size="12" text-anchor="end" >1.0</text>
<line x1="530.20" y1="722.10" x2="536.20" y2="722.10" stroke="#000" stroke-width="1.7"/>
<text x="528.60" y="726.12" font-size="12" text-anchor="end" >1.5</text>
<path d="M541.85 884.20 V777.18 H548.95 V884.20" fill="#fff" stroke="#000" stroke-width="2.7" stroke-linejoin="miter"/>
<line x1="559.70" y1="789.60" x2="559.70" y2="802.90" stroke="#444" stroke-width="1.35"/>
<line x1="557.40" y1="789.60" x2="562.00" y2="789.60" stroke="#000" stroke-width="1.5"/>
<rect x="555.00" y="802.90" width="9.40" height="81.30" fill="#000"/>
<path d="M579.55 884.20 V777.18 H586.55 V884.20" fill="#fff" stroke="#000" stroke-width="2.7" stroke-linejoin="miter"/>
<line x1="597.10" y1="765.20" x2="597.10" y2="772.60" stroke="#444" stroke-width="1.35"/>
<line x1="594.80" y1="765.20" x2="599.40" y2="765.20" stroke="#000" stroke-width="1.5"/>
<rect x="592.20" y="772.60" width="9.80" height="111.60" fill="#000"/>
<path d="M617.15 884.20 V777.18 H624.15 V884.20" fill="#fff" stroke="#000" stroke-width="2.7" stroke-linejoin="miter"/>
<line x1="634.60" y1="747.40" x2="634.60" y2="775.60" stroke="#444" stroke-width="1.35"/>
<line x1="632.30" y1="747.40" x2="636.90" y2="747.40" stroke="#000" stroke-width="1.5"/>
<rect x="629.80" y="775.60" width="9.60" height="108.60" fill="#000"/>
<line x1="552.40" y1="884.20" x2="552.40" y2="890.40" stroke="#000" stroke-width="1.7"/>
<line x1="589.80" y1="884.20" x2="589.80" y2="890.40" stroke="#000" stroke-width="1.7"/>
<line x1="627.30" y1="884.20" x2="627.30" y2="890.40" stroke="#000" stroke-width="1.7"/>
<text x="552.00" y="903.50" font-size="11.8" text-anchor="middle" >CD36</text>
<text x="588.70" y="903.50" font-size="11.8" text-anchor="middle" >CPT2</text>
<text x="625.40" y="903.50" font-size="11.8" text-anchor="middle" >CROT</text>
<text x="560.00" y="791.38" font-size="12.8" text-anchor="middle" style="fill:#3a3a3a;stroke:#3a3a3a;stroke-width:0.3">*</text>
<text transform="translate(490.80,812.50) rotate(-90)" x="0" y="0" font-size="11.0" text-anchor="middle">The relative mRNA expression</text>
<text transform="translate(504.20,806.10) rotate(-90)" x="0" y="0" font-size="11.0" text-anchor="middle">in BPH-1 cells</text>
<rect x="648.65" y="729.55" width="15.20" height="6.50" fill="#fff" stroke="#000" stroke-width="2.7"/>
<rect x="647.30" y="750.50" width="17.90" height="8.70" fill="#000"/>
<text x="674.20" y="738.60" font-size="14.2" text-anchor="start" >NC</text>
<text x="674.20" y="760.70" font-size="14.2" text-anchor="start" >OE</text>
<text x="8.00" y="939.70" font-size="25.5" text-anchor="start" >E</text>
<line x1="32.00" y1="963.00" x2="452.30" y2="963.00" stroke="#000" stroke-width="1.5"/>
<text x="211.60" y="955.10" font-size="15.1" text-anchor="start" >RWPE-1</text>
<text x="89.00" y="984.20" font-size="15.3" text-anchor="start" >50mM Glu</text>
<text x="352.60" y="984.20" font-size="15.2" text-anchor="start" >si</text>
<line x1="51.20" y1="998.95" x2="51.20" y2="1158.75" stroke="#000" stroke-width="1.7"/>
<line x1="50.35" y1="1157.90" x2="157.50" y2="1157.90" stroke="#000" stroke-width="1.7"/>
<line x1="45.20" y1="1157.90" x2="51.20" y2="1157.90" stroke="#000" stroke-width="1.7"/>
<text x="43.60" y="1161.92" font-size="12" text-anchor="end" >0</text>
<line x1="45.20" y1="1105.20" x2="51.20" y2="1105.20" stroke="#000" stroke-width="1.7"/>
<text x="43.60" y="1109.22" font-size="12" text-anchor="end" >1</text>
<line x1="45.20" y1="1052.50" x2="51.20" y2="1052.50" stroke="#000" stroke-width="1.7"/>
<text x="43.60" y="1056.52" font-size="12" text-anchor="end" >2</text>
<line x1="45.20" y1="999.80" x2="51.20" y2="999.80" stroke="#000" stroke-width="1.7"/>
<text x="43.60" y="1003.82" font-size="12" text-anchor="end" >3</text>
<path d="M57.15 1157.90 V1106.25 H64.35 V1157.90" fill="#fff" stroke="#000" stroke-width="2.7" stroke-linejoin="miter"/>
<line x1="74.35" y1="1012.40" x2="74.35" y2="1021.30" stroke="#444" stroke-width="1.35"/>
<line x1="72.05" y1="1012.40" x2="76.65" y2="1012.40" stroke="#000" stroke-width="1.5"/>
<rect x="69.80" y="1021.30" width="9.10" height="136.60" fill="#000"/>
<path d="M93.85 1157.90 V1106.25 H100.95 V1157.90" fill="#fff" stroke="#000" stroke-width="2.7" stroke-linejoin="miter"/>
<line x1="111.00" y1="1115.50" x2="111.00" y2="1120.30" stroke="#444" stroke-width="1.35"/>
<line x1="108.70" y1="1115.50" x2="113.30" y2="1115.50" stroke="#000" stroke-width="1.5"/>
<rect x="106.30" y="1120.30" width="9.40" height="37.60" fill="#000"/>
<path d="M130.45 1157.90 V1106.25 H137.55 V1157.90" fill="#fff" stroke="#000" stroke-width="2.7" stroke-linejoin="miter"/>
<line x1="147.70" y1="1111.10" x2="147.70" y2="1118.90" stroke="#444" stroke-width="1.35"/>
<line x1="145.40" y1="1111.10" x2="150.00" y2="1111.10" stroke="#000" stroke-width="1.5"/>
<rect x="143.10" y="1118.90" width="9.20" height="39.00" fill="#000"/>
<line x1="67.20" y1="1157.90" x2="67.20" y2="1164.10" stroke="#000" stroke-width="1.7"/>
<line x1="103.90" y1="1157.90" x2="103.90" y2="1164.10" stroke="#000" stroke-width="1.7"/>
<line x1="140.30" y1="1157.90" x2="140.30" y2="1164.10" stroke="#000" stroke-width="1.7"/>
<text x="67.00" y="1177.40" font-size="12.3" text-anchor="middle" >CD36</text>
<text x="102.90" y="1177.40" font-size="12.3" text-anchor="middle" >CPT2</text>
<text x="139.20" y="1177.40" font-size="12.3" text-anchor="middle" >CROT</text>
<text x="76.60" y="1014.48" font-size="12.8" text-anchor="middle" style="fill:#3a3a3a;stroke:#3a3a3a;stroke-width:0.3">***</text>
<text x="112.90" y="1116.08" font-size="12.8" text-anchor="middle" style="fill:#3a3a3a;stroke:#3a3a3a;stroke-width:0.3">**</text>
<text x="148.60" y="1113.68" font-size="12.8" text-anchor="middle" style="fill:#3a3a3a;stroke:#3a3a3a;stroke-width:0.3">*</text>
<text transform="translate(13.80,1081.80) rotate(-90)" x="0" y="0" font-size="13.1" text-anchor="middle">The relative mRNA expression</text>
<text transform="translate(29.40,1077.80) rotate(-90)" x="0" y="0" font-size="13.3" text-anchor="middle">in RWPE-1 cells</text>
<rect x="157.35" y="1007.35" width="14.60" height="6.00" fill="#fff" stroke="#000" stroke-width="2.7"/>
<rect x="156.00" y="1027.60" width="17.30" height="8.40" fill="#000"/>
<text x="182.70" y="1015.80" font-size="13.2" text-anchor="start" >NC</text>
<text x="182.70" y="1036.60" font-size="13.2" text-anchor="start" >50 mM Glu</text>
<line x1="316.00" y1="999.95" x2="316.00" y2="1158.75" stroke="#000" stroke-width="1.7"/>
<line x1="315.15" y1="1157.90" x2="421.30" y2="1157.90" stroke="#000" stroke-width="1.7"/>
<line x1="310.00" y1="1157.90" x2="316.00" y2="1157.90" stroke="#000" stroke-width="1.7"/>
<text x="308.40" y="1161.92" font-size="12" text-anchor="end" >0.0</text>
<line x1="310.00" y1="1105.53" x2="316.00" y2="1105.53" stroke="#000" stroke-width="1.7"/>
<text x="308.40" y="1109.55" font-size="12" text-anchor="end" >0.5</text>
<line x1="310.00" y1="1053.17" x2="316.00" y2="1053.17" stroke="#000" stroke-width="1.7"/>
<text x="308.40" y="1057.19" font-size="12" text-anchor="end" >1.0</text>
<line x1="310.00" y1="1000.80" x2="316.00" y2="1000.80" stroke="#000" stroke-width="1.7"/>
<text x="308.40" y="1004.82" font-size="12" text-anchor="end" >1.5</text>
<path d="M321.45 1157.90 V1054.22 H328.85 V1157.90" fill="#fff" stroke="#000" stroke-width="2.7" stroke-linejoin="miter"/>
<line x1="338.95" y1="1046.30" x2="338.95" y2="1066.50" stroke="#444" stroke-width="1.35"/>
<line x1="336.65" y1="1046.30" x2="341.25" y2="1046.30" stroke="#000" stroke-width="1.5"/>
<rect x="334.30" y="1066.50" width="9.30" height="91.40" fill="#000"/>
<path d="M358.25 1157.90 V1054.22 H365.55 V1157.90" fill="#fff" stroke="#000" stroke-width="2.7" stroke-linejoin="miter"/>
<line x1="375.45" y1="1082.70" x2="375.45" y2="1115.30" stroke="#444" stroke-width="1.35"/>
<line x1="373.15" y1="1082.70" x2="377.75" y2="1082.70" stroke="#000" stroke-width="1.5"/>
<rect x="370.90" y="1115.30" width="9.10" height="42.60" fill="#000"/>
<path d="M394.65 1157.90 V1054.22 H401.65 V1157.90" fill="#fff" stroke="#000" stroke-width="2.7" stroke-linejoin="miter"/>
<line x1="411.75" y1="1134.30" x2="411.75" y2="1143.90" stroke="#444" stroke-width="1.35"/>
<line x1="409.45" y1="1134.30" x2="414.05" y2="1134.30" stroke="#000" stroke-width="1.5"/>
<rect x="407.10" y="1143.90" width="9.30" height="14.00" fill="#000"/>
<line x1="331.60" y1="1157.90" x2="331.60" y2="1164.10" stroke="#000" stroke-width="1.7"/>
<line x1="367.90" y1="1157.90" x2="367.90" y2="1164.10" stroke="#000" stroke-width="1.7"/>
<line x1="404.40" y1="1157.90" x2="404.40" y2="1164.10" stroke="#000" stroke-width="1.7"/>
<text x="331.20" y="1177.50" font-size="12.3" text-anchor="middle" >CD36</text>
<text x="367.00" y="1177.50" font-size="12.3" text-anchor="middle" >CPT2</text>
<text x="403.00" y="1177.50" font-size="12.3" text-anchor="middle" >CROT</text>
<text x="376.00" y="1083.38" font-size="12.8" text-anchor="middle" style="fill:#3a3a3a;stroke:#3a3a3a;stroke-width:0.3">*</text>
<text x="414.80" y="1134.38" font-size="12.8" text-anchor="middle" style="fill:#3a3a3a;stroke:#3a3a3a;stroke-width:0.3">***</text>
<text transform="translate(272.20,1088.20) rotate(-90)" x="0" y="0" font-size="10.9" text-anchor="middle">The relative mRNA expression</text>
<text transform="translate(284.60,1082.50) rotate(-90)" x="0" y="0" font-size="10.85" text-anchor="middle">in RWPE-1 cells</text>
<rect x="422.35" y="1008.05" width="14.60" height="6.10" fill="#fff" stroke="#000" stroke-width="2.7"/>
<rect x="421.00" y="1028.10" width="17.30" height="8.60" fill="#000"/>
<text x="447.20" y="1016.40" font-size="13.2" text-anchor="start" >NC</text>
<text x="447.20" y="1037.00" font-size="13.2" text-anchor="start" >si</text>
</svg>
</body></html>
